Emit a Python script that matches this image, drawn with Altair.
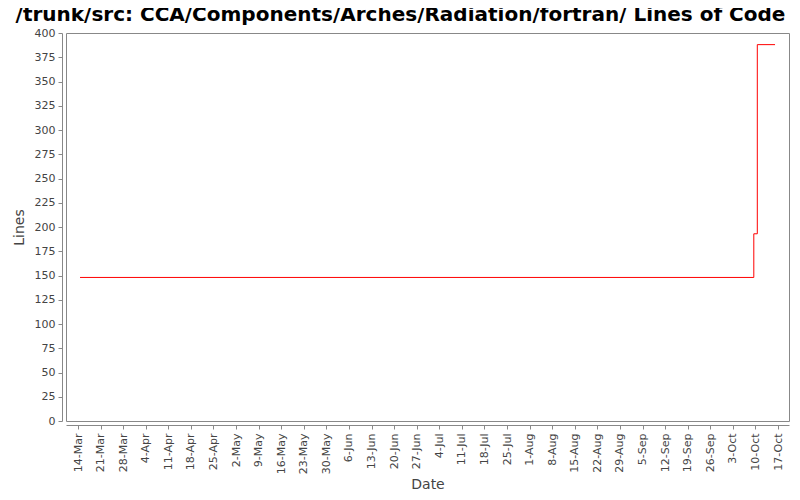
import altair as alt
import pandas as pd

# Data (step chart of lines of code)
dates = ["2010-03-14T15:00", "2010-10-09T12:00", "2010-10-09T12:00",
         "2010-10-10T14:00", "2010-10-16T02:00"]
lines = [148, 148, 193, 388, 388]
order = [0, 1, 2, 3, 4]

y_ticks = list(range(0, 401, 25))
x_domain = ["2010-03-10T06:40", "2010-10-20T09:50"]

df = pd.DataFrame({"date": dates, "lines": lines, "idx": order})

chart = alt.Chart(df).mark_line(
    interpolate="step-after", color="#ff0000", strokeWidth=1
).encode(
    x=alt.X("date:T", title="Date",
            scale=alt.Scale(domain=x_domain, nice=False),
            axis=alt.Axis(format="%-d-%b", labelAngle=-90, labelAlign="right",
                          labelBaseline="middle",
                          tickCount={"interval": "week", "step": 1},
                          labelOverlap=False, labelPadding=4, grid=False,
                          offset=4, tickSize=4)),
    y=alt.Y("lines:Q", title="Lines",
            scale=alt.Scale(domain=[0, 400], nice=False),
            axis=alt.Axis(values=y_ticks, grid=False, offset=4, tickSize=4,
                          labelPadding=3, titlePadding=8)),
    order="idx:Q",
).properties(
    width=723, height=388, background="white",
    title=alt.TitleParams(
        "/trunk/src: CCA/Components/Arches/Radiation/fortran/ Lines of Code",
        anchor="middle", frame="group", fontSize=20, font="DejaVu Sans",
        fontWeight="bold", color="#000000", offset=12, dx=-27, dy=10),
    padding={"left": 58, "top": 25, "right": 3, "bottom": 71},
    autosize=alt.AutoSizeParams(type="none"),
).configure_view(
    stroke="#888888", strokeWidth=1
).configure_axis(
    labelFont="DejaVu Sans", labelFontSize=11, labelColor="#444444",
    titleFont="DejaVu Sans", titleFontSize=14, titleColor="#444444",
    titleFontWeight="normal",
    domainColor="#888888", tickColor="#888888",
)

chart.save("out.html", embed_options={"renderer": "svg", "actions": False})
